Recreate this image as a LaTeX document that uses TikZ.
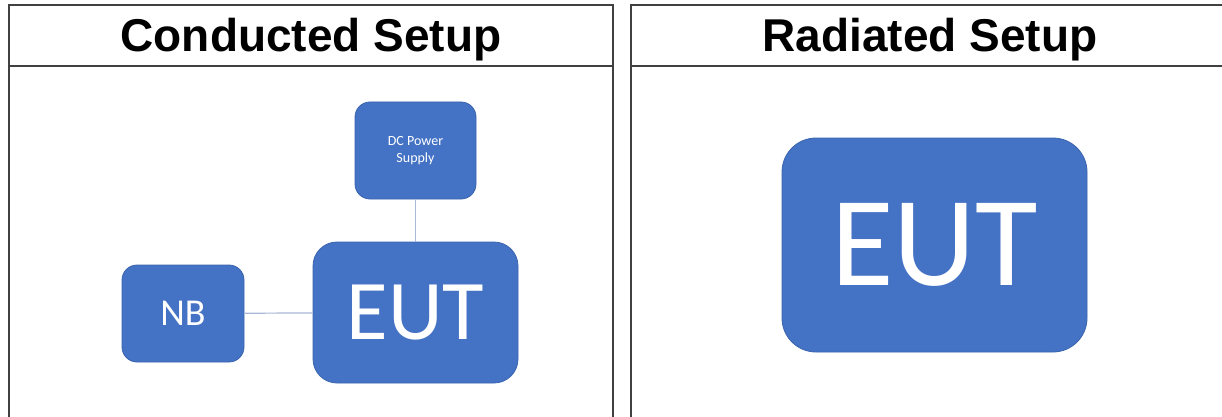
\documentclass[tikz,border=0pt]{standalone}
\usepackage{fontspec}
\setmainfont{Carlito}
\newfontfamily\headfont{Liberation Sans}
\definecolor{boxblue}{HTML}{4472C4}
\definecolor{boxedge}{HTML}{3A64AE}
\definecolor{wire}{HTML}{A9B8D8}
\definecolor{rule}{HTML}{404040}
\begin{document}
\begin{tikzpicture}[x=1pt,y=-1pt,
  frame/.style={draw=rule,line width=2pt},
  head/.style={font=\headfont\bfseries\fontsize{46}{50}\selectfont,anchor=base,inner sep=0pt},
  unit/.style={draw=boxedge,line width=0.8pt,fill=boxblue,text=white,inner sep=0pt,align=center},
  wirestyle/.style={draw=wire,line width=1.2pt}]
\useasboundingbox (0,0) rectangle (1222,417);
\fill[white] (0,0) rectangle (1222,417);

% table frame
\draw[frame] (8.5,420) -- (8.5,5) -- (613,5) -- (613,420);
\draw[frame] (8.5,66) -- (613,66);
\draw[frame] (631,420) -- (631,5) -- (1230,5);
\draw[frame] (631,66) -- (1230,66);

% headers
\node[head] (hc) at (311,52) {Conducted Setup};
\node[head] (hr) at (930,52) {Radiated Setup};

% conducted setup
\node[unit,rounded corners=15pt,minimum width=121pt,minimum height=97pt,
      font=\fontsize{14}{17}\selectfont] (dc) at (415.5,150.5) {DC Power\\Supply};
\node[unit,rounded corners=24pt,minimum width=205pt,minimum height=141pt,
      font=\fontsize{85}{90}\selectfont] (eutc) at (415.5,312.5) {EUT};
\node[unit,rounded corners=15pt,minimum width=122pt,minimum height=97pt,
      font=\fontsize{38}{40}\selectfont] (nb) at (183,313.5) {NB};
\draw[wirestyle] (dc) -- (eutc);
\draw[wirestyle] (nb) -- (eutc);

% radiated setup
\node[unit,rounded corners=34pt,minimum width=305pt,minimum height=214pt,
      font=\fontsize{128}{130}\selectfont] (eutr) at (934.5,245) {EUT};
\end{tikzpicture}
\end{document}
